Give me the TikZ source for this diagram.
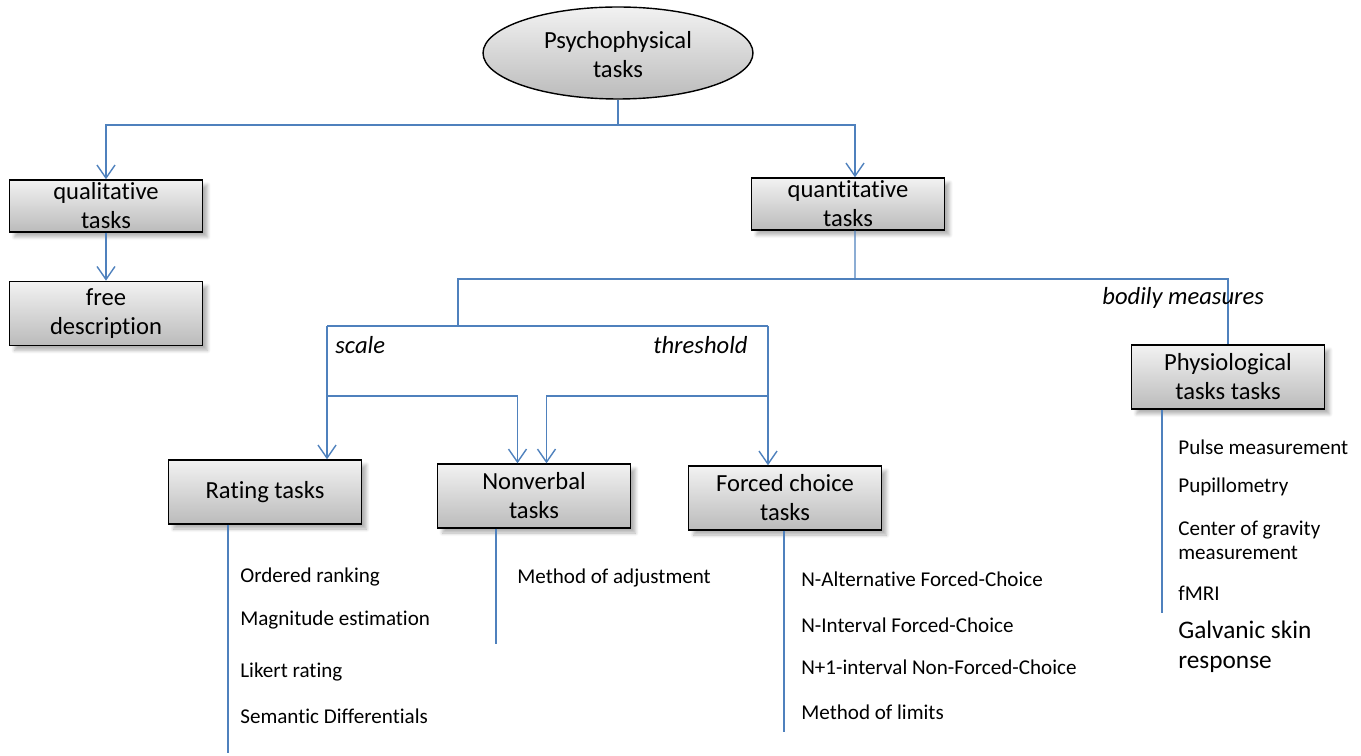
\documentclass[tikz,border=0pt]{standalone}
\usepackage{fontspec}
\setmainfont{Carlito}[Ligatures=NoCommon]
\usetikzlibrary{arrows.meta,positioning,shapes.geometric,shadows.blur}
\definecolor{linkblue}{HTML}{4F81BD}
\definecolor{boxtop}{HTML}{F2F2F2}
\definecolor{boxbottom}{HTML}{BBBBBB}

\begin{document}
\begin{tikzpicture}[x=0.02cm,y=-0.02cm,
  every node/.style={font=\fontsize{12}{13.5}\selectfont,inner sep=0pt},
  box/.style={draw=black,line width=0.8pt,top color=boxtop,bottom color=boxbottom,
    minimum width=3.86cm,minimum height=1.28cm,align=center,
    font=\fontsize{14}{16.5}\selectfont,blur shadow={shadow xshift=1mm,shadow yshift=-1mm,shadow blur steps=6,shadow opacity=30}},
  link/.style={draw=linkblue,line width=0.8pt},
  arr/.style={link,-{Straight Barb[length=2.6mm,width=3.6mm,line width=0.8pt]}},
  item/.style={link,line width=0.6pt},
  tag/.style={font=\fontsize{14}{16.5}\selectfont\itshape,anchor=west}]
\useasboundingbox (0,0) rectangle (1361,756);

% top of the tree
\node[ellipse,draw=black,line width=0.8pt,top color=boxtop,bottom color=boxbottom,
  minimum width=5.4cm,minimum height=1.84cm,
  font=\fontsize{14}{16.5}\selectfont] (top) at (618,53)
  {\raisebox{-14pt}[16pt][16pt]{\begin{tabular}[b]{@{}c@{}}Psychophysical\\tasks\end{tabular}}};
\node[box,minimum height=1.04cm] (qual) at (106,206) {qualitative\\tasks};
\node[box,below=0.96cm of qual] (free) {free\\description};
\node[box,minimum height=1.04cm] (quant) at (848,204) {quantitative\\tasks};
\node[box] (phys) at (1228,377) {Physiological\\tasks tasks};
\node[box] (rating) at (265,492) {Rating tasks};
\node[box] (nonv) at (534,496) {Nonverbal\\tasks};
\node[box] (forced) at (785,498) {Forced choice\\tasks};

% branching lines
\coordinate (b1) at (618,125);
\coordinate (b2) at (855,279);
\coordinate (b3) at (458,326);
\coordinate (sL) at (327,326);
\coordinate (sR) at (768,326);
\coordinate (tL) at (327,396);
\coordinate (tR) at (768,396);
\draw[link] (top.south) -- (b1);
\draw[arr] (b1) -| (qual.north);
\draw[arr] (b1) -| ([xshift=0.14cm]quant.north);
\draw[arr] (qual.south) -- (free.north);
\draw[link] ([xshift=0.14cm]quant.south) -- (b2);
\draw[link] (b2) -| (b3);
\draw[link] (b2) -| (phys.north);
\draw[link] (sL) -- (sR);
\draw[arr] (sL) -- (sL |- rating.north);
\draw[arr] (sR) -- (sR |- forced.north);
\draw[arr] (tL) -| ([xshift=-0.33cm]nonv.north);
\draw[arr] (tR) -| ([xshift=0.25cm]nonv.north);

\node[tag] (scale) at (335,345) {scale};
\node[tag] (thresh) at (653,345) {threshold};
\node[tag] (bodily) at (1102,298) {bodily measures};

% lists under the boxes
\coordinate (rEnd) at (228,753);
\coordinate (nEnd) at (496,644);
\coordinate (fEnd) at (784,732);
\coordinate (pEnd) at (1162,613);
\draw[item] (rEnd |- rating.south) -- (rEnd);
\draw[item] (nEnd |- nonv.south) -- (nEnd);
\draw[item] (fEnd |- forced.south) -- (fEnd);
\draw[item] (pEnd |- phys.south) -- (pEnd);

\node[anchor=west] (r1) at (240,577) {Ordered ranking};
\node[anchor=west] (r2) at (240,620) {Magnitude estimation};
\node[anchor=west] (r3) at (240,672) {Likert rating};
\node[anchor=west] (r4) at (240,716) {Semantic Differentials};

\node[anchor=west] (n1) at (517,578) {Method of adjustment};

\node[anchor=west] (f1) at (801,579) {N-Alternative Forced-Choice};
\node[anchor=west] (f2) at (801,625) {N-Interval Forced-Choice};
\node[anchor=west] (f3) at (801,667) {N+1-interval Non-Forced-Choice};
\node[anchor=west] (f4) at (801,712) {Method of limits};

\node[anchor=west] (p1) at (1178,447) {Pulse measurement};
\node[anchor=west] (p2) at (1178,487) {Pupillometry};
\node[anchor=west,align=left] (p3) at (1178,540) {Center of gravity\\measurement};
\node[anchor=west] (p4) at (1178,593) {fMRI};
\node[anchor=west,align=left,font=\fontsize{14.4}{17}\selectfont] (p5) at (1178,647) {Galvanic skin\\response};
\end{tikzpicture}
\end{document}
